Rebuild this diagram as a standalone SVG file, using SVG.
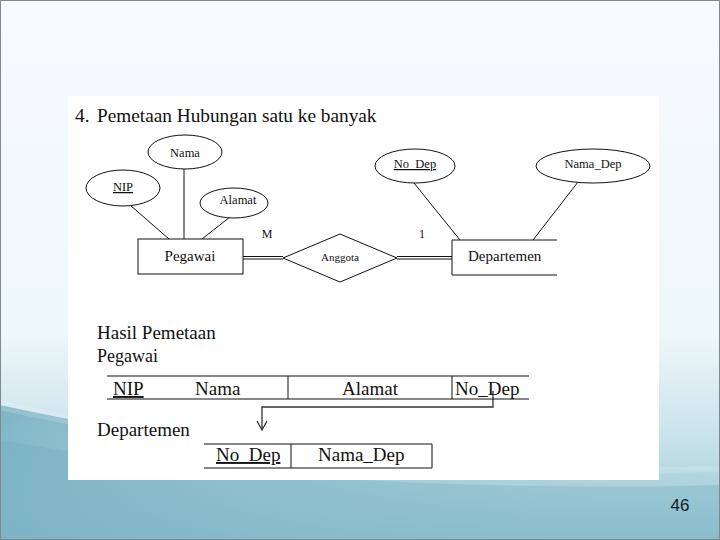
<svg xmlns="http://www.w3.org/2000/svg" width="720" height="540" viewBox="0 0 720 540">
<defs>
<linearGradient id="bg" x1="0" y1="0" x2="0" y2="1">
<stop offset="0" stop-color="#f6fbfd"/>
<stop offset="0.62" stop-color="#eef7fa"/>
<stop offset="0.8" stop-color="#cbe4eb"/>
<stop offset="1" stop-color="#94c4d1"/>
</linearGradient>
<linearGradient id="swoosh" x1="0" y1="0" x2="1" y2="0.3">
<stop offset="0" stop-color="#6aa7bb" stop-opacity="0.8"/>
<stop offset="0.5" stop-color="#86bbcb" stop-opacity="0.45"/>
<stop offset="1" stop-color="#a6d0dc" stop-opacity="0.2"/>
</linearGradient>
<style>
.ln{stroke:#111;stroke-width:1;fill:none}
.sh{fill:#fff;stroke:#111;stroke-width:1}
.t{font-family:"Liberation Serif","Times New Roman",serif;fill:#111}
.s{font-size:12.5px;text-anchor:middle}
.b{font-size:19px}
.u{text-decoration:underline}
.cn{stroke:#333;stroke-width:1.3;fill:none}
</style>
</defs>
<rect x="0" y="0" width="720" height="540" fill="url(#bg)"/>
<path d="M0,405 C180,445 420,470 720,470 L720,540 L0,540 Z" fill="url(#swoosh)"/>
<path d="M0,440 C200,475 450,492 720,485 L720,540 L0,540 Z" fill="#6ea9bc" opacity="0.3"/>
<path d="M0,400 C200,448 430,472 720,466 L720,472 C430,478 200,456 0,410 Z" fill="#ffffff" opacity="0.15"/>
<rect x="0.5" y="0.5" width="719" height="539" fill="none" stroke="#7d8b90" stroke-width="1"/>
<rect x="68" y="96" width="591" height="384" fill="#ffffff"/>

<text class="t" x="75" y="122" font-size="19.3">4.<tspan x="97">Pemetaan Hubungan satu ke banyak</tspan></text>

<g id="connectors">
<line class="ln" x1="184" y1="169" x2="184" y2="239"/>
<line class="ln" x1="130" y1="205" x2="169" y2="239"/>
<line class="ln" x1="230" y1="217" x2="202" y2="239"/>
<line class="ln" x1="414" y1="183" x2="460" y2="240"/>
<line class="ln" x1="578" y1="182" x2="533" y2="240"/>
<line class="ln" x1="243" y1="256.5" x2="283" y2="256.5"/>
<line class="ln" x1="243" y1="259" x2="283" y2="259"/>
<line class="ln" x1="397" y1="256.5" x2="452" y2="256.5"/>
<line class="ln" x1="397" y1="259" x2="452" y2="259"/>
<polyline class="cn" points="493,391 493,407 262,407 262,430"/>
<polyline class="cn" points="257,421 262,430 267,421"/>
</g>

<g id="attr-nama">
<ellipse class="sh" cx="185" cy="152" rx="37" ry="17"/>
<text class="t s" x="185" y="157">Nama</text>
</g>
<g id="attr-nip">
<ellipse class="sh" cx="123" cy="188" rx="37" ry="18"/>
<text class="t s u" x="123" y="191">NIP</text>
</g>
<g id="attr-alamat">
<ellipse class="sh" cx="234" cy="203" rx="34" ry="15"/>
<text class="t s" x="238" y="204" font-size="12">Alamat</text>
</g>
<g id="attr-nodep">
<ellipse class="sh" cx="415" cy="166" rx="40" ry="17"/>
<text class="t s u" x="415" y="168">No_Dep</text>
</g>
<g id="attr-namadep">
<ellipse class="sh" cx="593" cy="166" rx="57" ry="17"/>
<text class="t s" x="593" y="168">Nama_Dep</text>
</g>
<g id="ent-pegawai">
<rect class="sh" x="138" y="239" width="105" height="35"/>
<text class="t" x="190" y="261" font-size="15" text-anchor="middle">Pegawai</text>
</g>
<g id="rel-anggota">
<polygon class="sh" points="283,258 340,234 397,258 340,282"/>
<text class="t" x="340" y="261" font-size="11" text-anchor="middle">Anggota</text>
</g>
<g id="ent-departemen">
<path class="ln" d="M557,240 L452,240 L452,275 L557,275"/>
<text class="t" x="468" y="261" font-size="15">Departemen</text>
</g>
<g id="card">
<text class="t" x="267" y="238" font-size="12" text-anchor="middle">M</text>
<text class="t" x="422" y="238" font-size="12" text-anchor="middle">1</text>
</g>

<text class="t b" x="97" y="339">Hasil Pemetaan</text>
<g id="tbl-pegawai">
<text class="t" x="97" y="362" font-size="18">Pegawai</text>
<line class="ln" x1="107" y1="376" x2="529" y2="376"/>
<line class="ln" x1="107" y1="399" x2="529" y2="399"/>
<line class="ln" x1="288" y1="376" x2="288" y2="399"/>
<line class="ln" x1="452" y1="376" x2="452" y2="399"/>
<text class="t b u" x="113" y="395">NIP</text>
<text class="t b" x="195" y="395">Nama</text>
<text class="t b" x="342" y="395">Alamat</text>
<text class="t b" x="455" y="395">No_Dep</text>
</g>
<g id="tbl-departemen">
<text class="t b" x="97" y="436">Departemen</text>
<line class="ln" x1="204" y1="444" x2="432" y2="444"/>
<line class="ln" x1="204" y1="468" x2="432" y2="468"/>
<line class="ln" x1="291" y1="444" x2="291" y2="468"/>
<line class="ln" x1="432" y1="444" x2="432" y2="468"/>
<text class="t b u" x="216" y="461">No_Dep</text>
<text class="t b" x="318" y="461">Nama_Dep</text>
</g>

<text x="680" y="511" font-family="'Liberation Sans',Arial,sans-serif" font-size="17" fill="#0f1c2b" text-anchor="middle">46</text>
</svg>
